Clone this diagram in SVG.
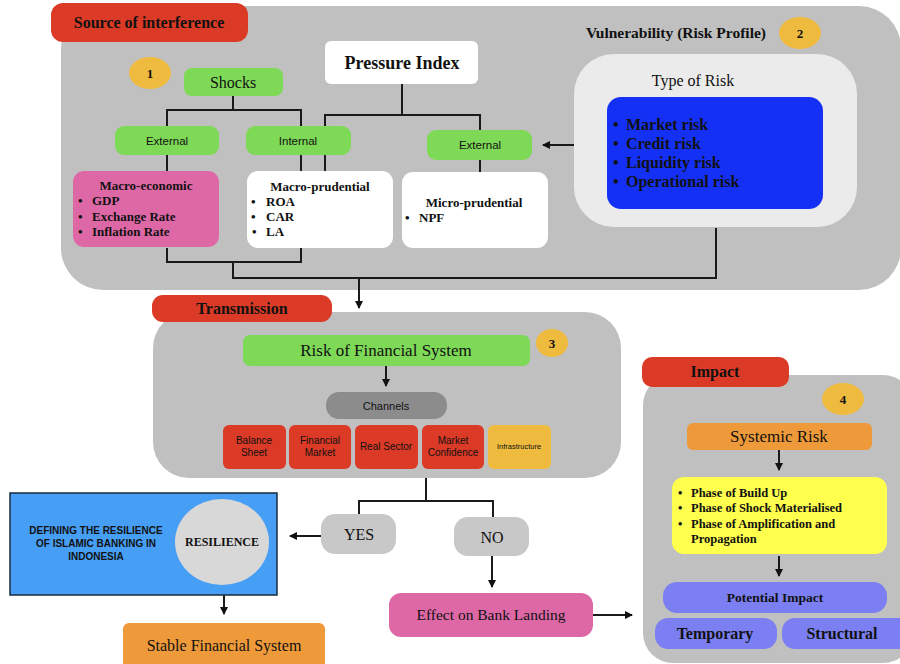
<svg xmlns="http://www.w3.org/2000/svg" width="900" height="664" viewBox="0 0 900 664">
<defs>
<marker id="ah" markerWidth="8" markerHeight="8" refX="7" refY="4" orient="auto" markerUnits="userSpaceOnUse">
<path d="M0,0 L8,4 L0,8 Z" fill="#111"/>
</marker>
<style>
.panel{fill:#c0c0c0}
.lbl{fill:#db3a26}
.grn{fill:#7ed957}
.badge{fill:#efbb3f}
.wht{fill:#fff}
.chan{fill:#db3a26}
.ln{fill:none;stroke:#1a1a1a;stroke-width:2}
.arr{fill:none;stroke:#1a1a1a;stroke-width:2;marker-end:url(#ah)}
.serif{font-family:"Liberation Serif","Times New Roman",serif;fill:#111}
.sans{font-family:"Liberation Sans",Arial,sans-serif;fill:#111}
.b{font-weight:bold}
.c{text-anchor:middle}
</style>
</defs>

<!-- panels -->
<g id="panel-source">
<rect class="panel" x="61" y="6" width="840" height="284" rx="42"/>
<rect class="lbl" x="51" y="3" width="197" height="39" rx="12"/>
<text class="serif b c" x="149" y="28" font-size="16">Source of interference</text>
</g>
<g id="panel-transmission">
<rect class="panel" x="153" y="312" width="468" height="166" rx="36"/>
<rect class="lbl" x="152" y="295" width="180" height="27" rx="11"/>
<text class="serif b c" x="242" y="314" font-size="16">Transmission</text>
</g>
<g id="panel-impact">
<rect class="panel" x="643" y="375" width="270" height="288" rx="30"/>
<rect class="lbl" x="642" y="357" width="147" height="30" rx="10"/>
<text class="serif b c" x="715" y="377" font-size="16">Impact</text>
</g>

<!-- connectors -->
<g id="connectors">
<path class="ln" d="M233,96 V110 M167,126 V110 H301 V126"/>
<path class="ln" d="M167,155 V171 M301,155 V171"/>
<path class="ln" d="M402,84 V115 M325,171 V115 H480 V130 M480,160 V172"/>
<path class="arr" d="M606,145 H543"/>
<path class="ln" d="M167,248 V262 H301 V248 M233,262 V278 H716 V228"/>
<path class="arr" d="M359,278 V308"/>
<path class="arr" d="M386,366 V386"/>
<path class="ln" d="M426,478 V501 M359,514 V501 H493 V517"/>
<path class="arr" d="M321,536 H290"/>
<path class="arr" d="M492,556 V587"/>
<path class="arr" d="M224,585 V614"/>
<path class="arr" d="M593,615 H632"/>
<path class="arr" d="M779,450 V470"/>
<path class="arr" d="M779,556 V576"/>
</g>

<!-- source of interference nodes -->
<g id="badge1"><ellipse class="badge" cx="150" cy="73" rx="21" ry="16"/><text class="serif b c" x="150" y="78" font-size="13">1</text></g>
<g id="shocks"><rect class="grn" x="184" y="68" width="99" height="28" rx="8"/><text class="serif c" x="233" y="88" font-size="16">Shocks</text></g>
<g id="external1"><rect class="grn" x="115" y="126" width="104" height="29" rx="9"/><text class="sans c" x="167" y="145" font-size="11.5">External</text></g>
<g id="internal"><rect class="grn" x="246" y="126" width="105" height="29" rx="9"/><text class="sans c" x="298" y="145" font-size="11.5">Internal</text></g>
<g id="pressure"><rect class="wht" x="325" y="41" width="153" height="43" rx="6"/><text class="serif b c" x="402" y="69" font-size="18">Pressure Index</text></g>
<g id="external2"><rect class="grn" x="427" y="130" width="105" height="30" rx="9"/><text class="sans c" x="480" y="149" font-size="11.5">External</text></g>
<g id="macroeconomic">
<rect x="73" y="171" width="146" height="76" rx="11" fill="#de68a6"/>
<text class="serif b c" x="146" y="190" font-size="13">Macro-economic</text>
<g class="serif b" font-size="13"><text x="78" y="205">•</text><text x="92" y="205">GDP</text><text x="78" y="221">•</text><text x="92" y="221">Exchange Rate</text><text x="78" y="236">•</text><text x="92" y="236">Inflation Rate</text></g>
</g>
<g id="macroprudential">
<rect class="wht" x="247" y="171" width="146" height="77" rx="11"/>
<text class="serif b c" x="320" y="191" font-size="13">Macro-prudential</text>
<g class="serif b" font-size="13"><text x="251" y="206">•</text><text x="266" y="206">ROA</text><text x="251" y="221">•</text><text x="266" y="221">CAR</text><text x="252" y="236">•</text><text x="266" y="236">LA</text></g>
</g>
<g id="microprudential">
<rect class="wht" x="402" y="172" width="146" height="76" rx="11"/>
<text class="serif b c" x="474" y="207" font-size="13">Micro-prudential</text>
<g class="serif b" font-size="13"><text x="405" y="222">•</text><text x="419" y="222">NPF</text></g>
</g>
<g id="vulnerability">
<text class="serif b c" x="676" y="38" font-size="15.5">Vulnerability (Risk Profile)</text>
<ellipse class="badge" cx="800" cy="33" rx="21" ry="16"/><text class="serif b c" x="800" y="38" font-size="13">2</text>
</g>
<g id="typeofrisk">
<rect x="574" y="54" width="283" height="173" rx="40" fill="#ebebeb"/>
<text class="serif c" x="693" y="86" font-size="16" fill="#333">Type of Risk</text>
<rect x="607" y="97" width="216" height="112" rx="14" fill="#1530f5"/>
<g class="serif b" font-size="16"><text x="613" y="130">•</text><text x="626" y="130">Market risk</text><text x="613" y="149">•</text><text x="626" y="149">Credit risk</text><text x="613" y="168">•</text><text x="626" y="168">Liquidity risk</text><text x="613" y="187">•</text><text x="626" y="187">Operational risk</text></g>
</g>

<!-- transmission nodes -->
<g id="riskfs"><rect class="grn" x="243" y="335" width="287" height="31" rx="7"/><text class="serif c" x="386" y="356" font-size="17">Risk of Financial System</text></g>
<g id="badge3"><ellipse class="badge" cx="552" cy="343" rx="16" ry="14"/><text class="serif b c" x="552" y="348" font-size="13">3</text></g>
<g id="channels"><rect x="326" y="392" width="121" height="27" rx="13" fill="#8c8c8c"/><text class="sans c" x="386" y="410" font-size="11">Channels</text></g>
<g id="ch-balance"><rect class="chan" x="223" y="425" width="63" height="44" rx="6"/><text class="sans c" x="254" y="444" font-size="10">Balance</text><text class="sans c" x="254" y="456" font-size="10">Sheet</text></g>
<g id="ch-financial"><rect class="chan" x="289" y="425" width="62" height="44" rx="6"/><text class="sans c" x="320" y="444" font-size="10">Financial</text><text class="sans c" x="320" y="456" font-size="10">Market</text></g>
<g id="ch-real"><rect class="chan" x="355" y="425" width="63" height="44" rx="6"/><text class="sans c" x="386" y="450" font-size="10">Real Sector</text></g>
<g id="ch-confidence"><rect class="chan" x="422" y="425" width="62" height="44" rx="6"/><text class="sans c" x="453" y="444" font-size="10">Market</text><text class="sans c" x="453" y="456" font-size="10">Confidence</text></g>
<g id="ch-infra"><rect x="488" y="425" width="63" height="44" rx="6" fill="#efbb3f"/><text class="sans c" x="519" y="449" font-size="7.5">Infrastructure</text></g>

<!-- lower nodes -->
<g id="yes"><rect x="321" y="514" width="75" height="40" rx="14" fill="#c8c8c8"/><text class="serif c" x="359" y="540" font-size="16">YES</text></g>
<g id="no"><rect x="454" y="517" width="75" height="39" rx="14" fill="#c8c8c8"/><text class="serif c" x="492" y="543" font-size="16">NO</text></g>
<g id="resilience-box">
<rect x="10" y="493" width="267" height="102" fill="#479ff5" stroke="#1a2a3a" stroke-width="1.5"/>
<g class="sans b c" font-size="10" fill="#1a2a4a"><text x="96" y="534">DEFINING THE RESILIENCE</text><text x="96" y="547">OF ISLAMIC BANKING IN</text><text x="96" y="560">INDONESIA</text></g>
<ellipse cx="222" cy="542" rx="47" ry="43" fill="#d8d8d8"/>
<text class="serif b c" x="222" y="546" font-size="12" fill="#333">RESILIENCE</text>
</g>
<g id="stable"><rect x="123" y="623" width="202" height="45" rx="6" fill="#ef9a3a"/><text class="serif c" x="224" y="651" font-size="16">Stable Financial System</text></g>
<g id="effect"><rect x="389" y="593" width="204" height="44" rx="12" fill="#de68a6"/><text class="serif c" x="491" y="620" font-size="15.5">Effect on Bank Landing</text></g>

<!-- impact nodes -->
<g id="badge4"><ellipse class="badge" cx="843" cy="399" rx="21" ry="16"/><text class="serif b c" x="843" y="404" font-size="13">4</text></g>
<g id="systemic"><rect x="687" y="423" width="185" height="27" rx="6" fill="#ef9a3a"/><text class="serif c" x="779" y="442" font-size="17">Systemic Risk</text></g>
<g id="phases">
<rect x="672" y="477" width="215" height="77" rx="12" fill="#ffff4d"/>
<g class="serif b" font-size="12.5"><text x="678" y="497">•</text><text x="691" y="497">Phase of Build Up</text><text x="678" y="512">•</text><text x="691" y="512">Phase of Shock Materialised</text><text x="678" y="528">•</text><text x="691" y="528">Phase of Amplification and</text><text x="691" y="543">Propagation</text></g>
</g>
<g id="potential"><rect x="663" y="582" width="224" height="31" rx="14" fill="#7b7ff2"/><text class="serif b c" x="775" y="602" font-size="13.5">Potential Impact</text></g>
<g id="temporary"><rect x="655" y="618" width="122" height="31" rx="13" fill="#7b7ff2"/><text class="serif b c" x="715" y="639" font-size="16">Temporary</text></g>
<g id="structural"><rect x="782" y="618" width="130" height="31" rx="13" fill="#7b7ff2"/><text class="serif b c" x="842" y="639" font-size="16">Structural</text></g>
</svg>
